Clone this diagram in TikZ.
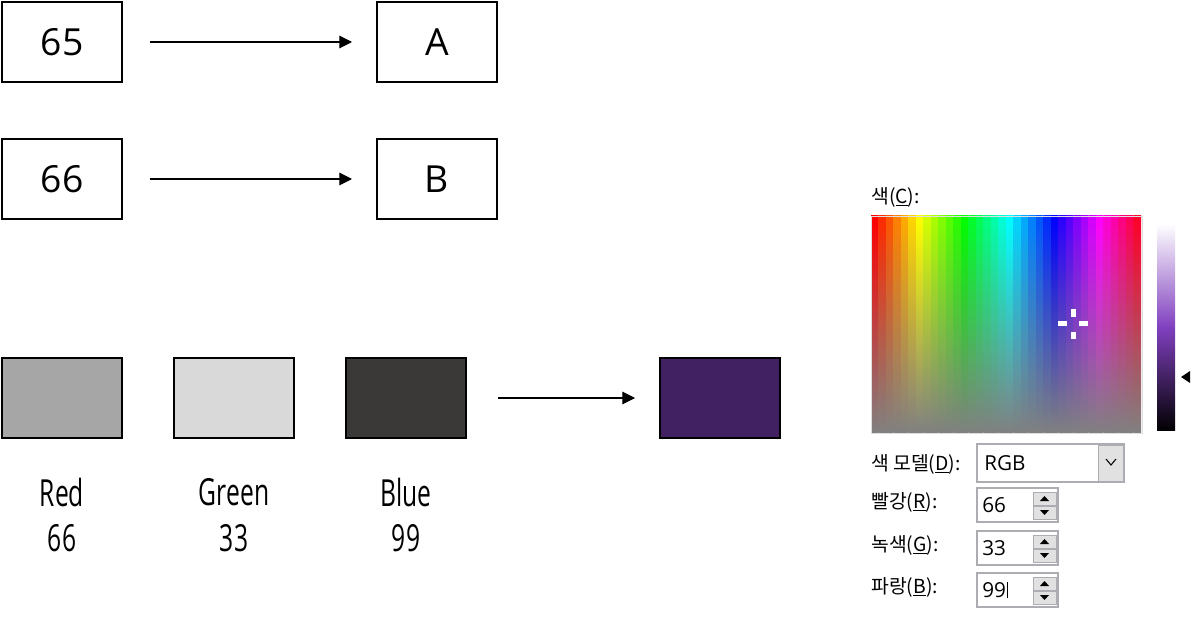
\documentclass[tikz,border=0pt]{standalone}
\usepackage{fontspec}
\setmainfont{Open Sans}
\newfontfamily\kr{Noto Sans CJK KR}
\newfontfamily\narrow[FakeStretch=0.66]{Open Sans}
\usetikzlibrary{arrows.meta}
\definecolor{redgray}{HTML}{A6A6A6}
\definecolor{greengray}{HTML}{D9D9D9}
\definecolor{bluegray}{HTML}{3B3838}
\definecolor{mixpurple}{RGB}{66,33,99}
\definecolor{lumpurple}{RGB}{128,64,191}
\definecolor{midgray}{RGB}{128,128,128}
\definecolor{ctlborder}{HTML}{ABADB3}
\definecolor{btnface}{HTML}{E1E1E1}
\begin{document}
\begin{tikzpicture}[x=0.75pt,y=-0.75pt,
  box/.style={draw,line width=1.5pt,minimum width=90pt,minimum height=59.5pt,inner sep=0pt,font=\fontsize{28}{30}\selectfont},
  conv/.style={-{Triangle[length=9.5pt,width=9.5pt]},line width=0.8pt,shorten <=20pt,shorten >=18pt},
  chan/.style={font=\narrow\fontsize{28}{34}\selectfont,align=center},
  dlg/.style={font=\kr\fontsize{14.5}{16}\selectfont,anchor=west,inner sep=0pt},
  dlgval/.style={font=\fontsize{15.5}{17}\selectfont,anchor=west,inner sep=0pt},
  field/.style={draw=ctlborder,fill=white,line width=1pt}]
\useasboundingbox (0,0) rectangle (1197,620);
% code to letter
\node[box] (n65) at (62,42) {65};
\node[box] (nA) at (437,42) {A};
\node[box] (n66) at (62,179) {66};
\node[box] (nB) at (437,179) {B};
\draw[conv] (n65) -- (nA);
\draw[conv] (n66) -- (nB);
% channels to colour
\node[box,fill=redgray] (red) at (62,398) {};
\node[box,fill=greengray] (green) at (234,398) {};
\node[box,fill=bluegray] (blue) at (406,398) {};
\node[box,fill=mixpurple] (mix) at (720,398) {};
\draw[conv,shorten <=23pt] (blue) -- (mix);
\node[chan] (lred) at (62,515) {Red\\66};
\node[chan] (lgreen) at (234,515) {Green\\33};
\node[chan] (lblue) at (406,515) {Blue\\99};
% colour dialog
\node[dlg] (ccap) at (871,197) {색(\underline{C}):};
\foreach \i in {0,...,35}{
  \pgfmathsetmacro\hh{\i/36}
  \definecolor{tmphue}{hsb}{\hh,1,1}
  \colorlet{hue\i}[rgb]{tmphue}
  \shade[top color=hue\i,bottom color=midgray] (871+7.5*\i,216) rectangle ++(7.6,217);
}
\draw[ctlborder!40] (871,216) rectangle (1142,433);
\shade[top color=white,bottom color=black,middle color=lumpurple] (1157,224) rectangle (1175,431);
\fill (1181,377) -- (1190,371) -- (1190,383) -- cycle;
\fill[white] (1071,309) rectangle (1076,317);
\fill[white] (1071,332) rectangle (1076,339);
\fill[white] (1058,321) rectangle (1067,326);
\fill[white] (1079,321) rectangle (1088,326);
\node[dlg] (lmodel) at (871,464) {색 모델(\underline{D}):};
\draw[field] (977,444) rectangle (1124,482);
\draw[ctlborder,fill=btnface] (1098,445) rectangle (1123,481);
\draw[line width=0.8pt] (1106,459) -- (1111,465) -- (1116,459);
\node[dlgval] (model) at (984,463) {RGB};
\foreach \yc/\lab/\val in {505/{빨강(\underline{R}):}/66,548/{녹색(\underline{G}):}/33,590/{파랑(\underline{B}):}/99}{
  \node[dlg] (l\val) at (871,\yc-3) {\lab};
  \draw[field] (977,\yc-17) rectangle (1058,\yc+17);
  \draw[ctlborder,fill=btnface] (1033,\yc-13) rectangle (1056,\yc);
  \draw[ctlborder,fill=btnface] (1033,\yc+1) rectangle (1056,\yc+14);
  \fill (1040,\yc-4) -- (1049,\yc-4) -- (1044.5,\yc-9) -- cycle;
  \fill (1040,\yc+5) -- (1049,\yc+5) -- (1044.5,\yc+10) -- cycle;
  \node[dlgval] (v\val) at (982,\yc) {\val};
}
\draw[line width=0.8pt] (v99.east) ++(1,-8) -- ++(0,16);
\end{tikzpicture}
\end{document}
